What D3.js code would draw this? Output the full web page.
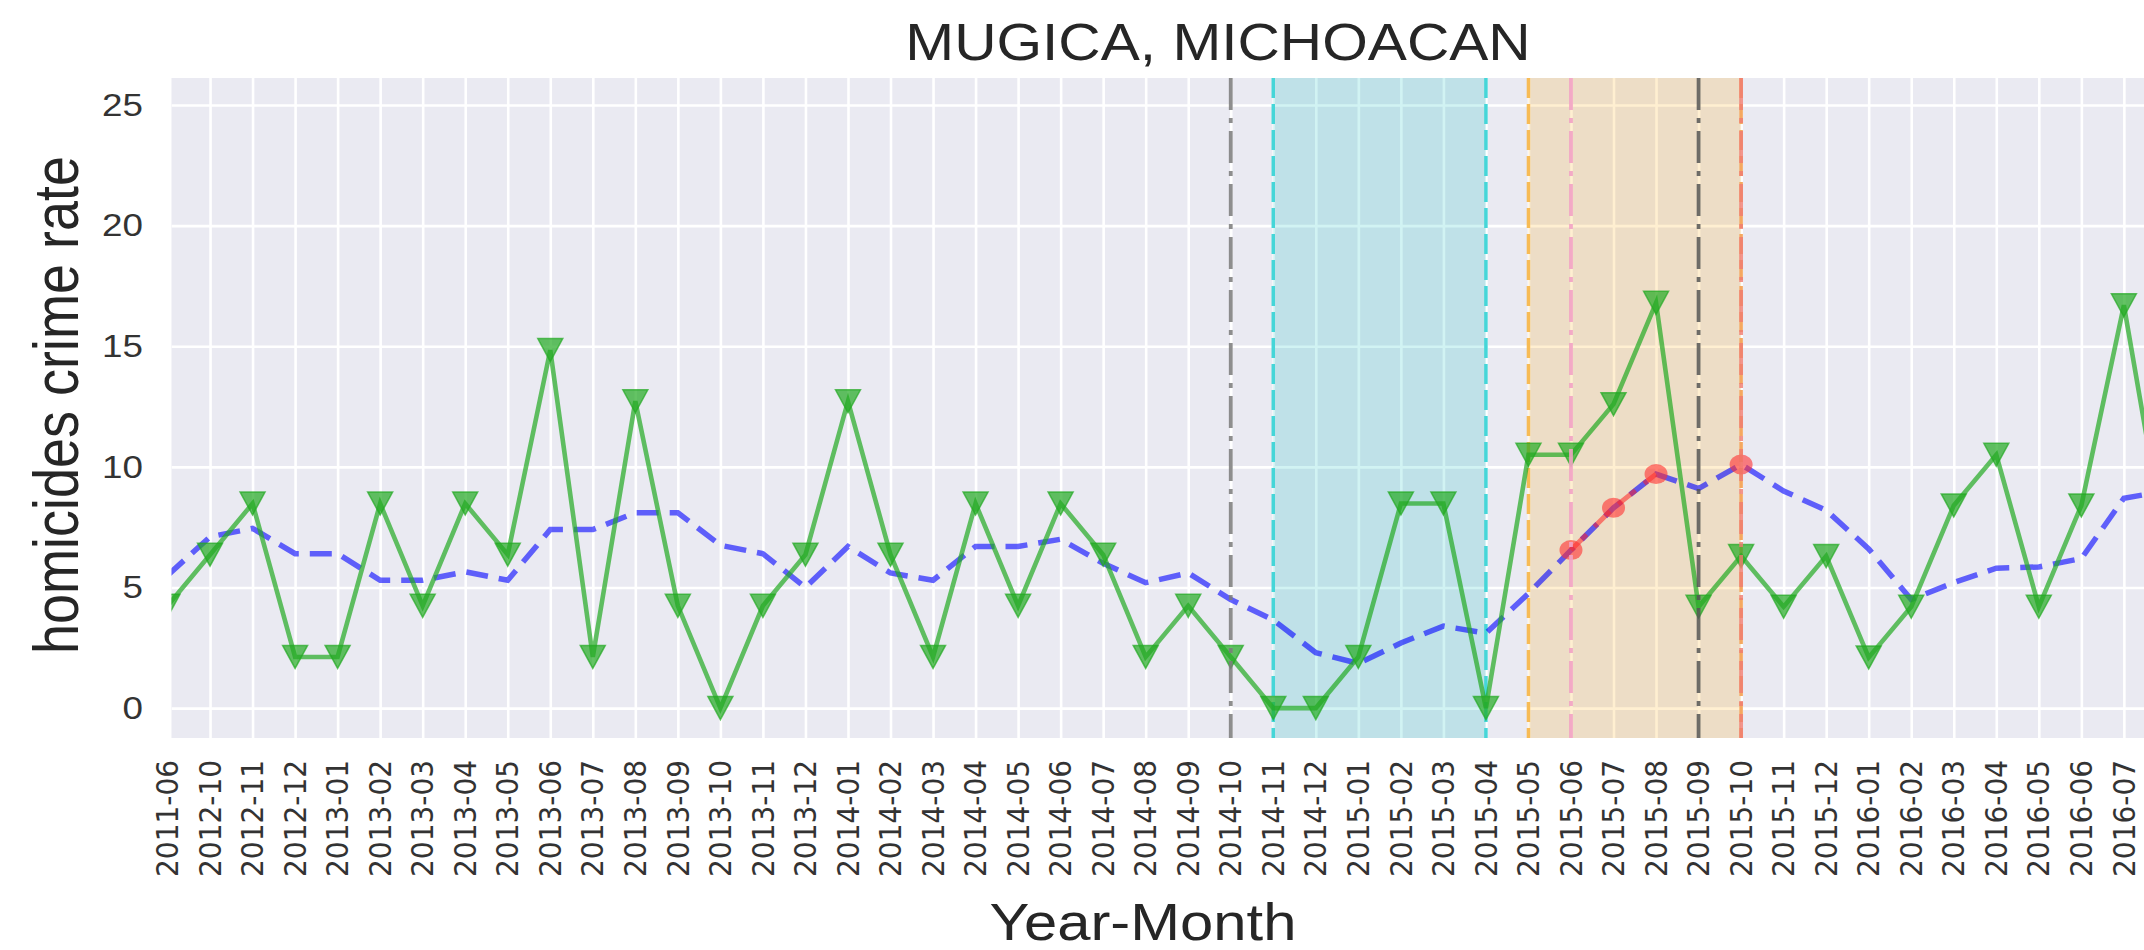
<!DOCTYPE html>
<html>
<head>
<meta charset="utf-8">
<script src="https://cdn.jsdelivr.net/npm/d3@7"></script>
<style>
body { margin: 0; background: #fff; }
svg { display: block; }
</style>
</head>
<body>
<svg id="chart" width="2144" height="950"></svg>
<script>
// categories on the x axis (last one sits just past the right edge)
var months = ["2011-06", "2012-10", "2012-11", "2012-12",
  "2013-01", "2013-02", "2013-03", "2013-04", "2013-05", "2013-06", "2013-07", "2013-08", "2013-09", "2013-10", "2013-11", "2013-12",
  "2014-01", "2014-02", "2014-03", "2014-04", "2014-05", "2014-06", "2014-07", "2014-08", "2014-09", "2014-10", "2014-11", "2014-12",
  "2015-01", "2015-02", "2015-03", "2015-04", "2015-05", "2015-06", "2015-07", "2015-08", "2015-09", "2015-10", "2015-11", "2015-12",
  "2016-01", "2016-02", "2016-03", "2016-04", "2016-05", "2016-06", "2016-07", "2016-08"];

// monthly homicides crime rate (green)
var homicideRate = [4.24, 6.36, 8.48, 2.12, 2.12, 8.48, 4.24, 8.48, 6.36, 14.84, 2.12, 12.72,
  4.24, 0, 4.24, 6.36, 12.72, 6.36, 2.12, 8.48, 4.24, 8.48, 6.36, 2.12,
  4.24, 2.12, 0, 0, 2.12, 8.48, 8.48, 0, 10.5, 10.5, 12.6, 16.8,
  4.2, 6.3, 4.2, 6.3, 2.1, 4.2, 8.4, 10.5, 4.2, 8.4, 16.7, 6.5];

// rolling mean (blue dashed)
var rollingMean = [5.5, 7.1, 7.45, 6.4, 6.4, 5.3, 5.3, 5.65, 5.3, 7.4, 7.4, 8.1,
  8.1, 6.75, 6.4, 5.0, 6.7, 5.6, 5.3, 6.7, 6.7, 7.0, 6.0, 5.2,
  5.6, 4.5, 3.65, 2.3, 1.85, 2.7, 3.4, 3.1, 4.75, 6.55, 8.3, 9.7,
  9.1, 10.1, 9.0, 8.2, 6.6, 4.5, 5.2, 5.8, 5.85, 6.2, 8.7, 9.0];

var yTicks = [0, 5, 10, 15, 20, 25];

// highlighted months
var redSegment = ["2015-06", "2015-07", "2015-08"];
var redPoint = ["2015-10"];
var cyanSpan = ["2014-11", "2015-04"];
var orangeSpan = ["2015-05", "2015-10"];
var eventLines = ["2014-10", "2015-06", "2015-09", "2015-10"];

const width = 2144, height = 950;
const plotLeft = 171.5, plotTop = 78, plotBottom = 738;
const step = 42.53;
const stretch = 1.15;   // the picture is a little wider than tall

var svg = d3.select("#chart");

var x = d3.scalePoint()
  .domain(months)
  .range([167.5, 167.5 + step * (months.length - 1)]);

var y = d3.scaleLinear()
  .domain([-1.24, 26.12])
  .range([plotBottom, plotTop]);

var series = months.map(function(m, i) {
  return { month: m, rate: homicideRate[i], mean: rollingMean[i] };
});
var byMonth = {};
series.forEach(function(d) { byMonth[d.month] = d; });

svg.append("defs").append("clipPath").attr("id", "plotClip")
  .append("rect")
  .attr("x", plotLeft).attr("y", plotTop)
  .attr("width", width - plotLeft).attr("height", plotBottom - plotTop);

// background
svg.append("rect")
  .attr("x", plotLeft).attr("y", plotTop)
  .attr("width", width - plotLeft).attr("height", plotBottom - plotTop)
  .attr("fill", "#eaeaf2");

var plot = svg.append("g").attr("clip-path", "url(#plotClip)");

// grid
var xGrid = plot.append("g")
  .attr("transform", "translate(0," + plotBottom + ")")
  .call(d3.axisBottom(x).tickSize(-(plotBottom - plotTop)).tickFormat(""));
var yGrid = plot.append("g")
  .attr("transform", "translate(" + plotLeft + ",0)")
  .call(d3.axisLeft(y).tickValues(yTicks).tickSize(-(width - plotLeft)).tickFormat(""));
[xGrid, yGrid].forEach(function(g) {
  g.select(".domain").remove();
  g.selectAll("line").attr("stroke", "#ffffff").attr("stroke-width", 2.6);
});

// shaded periods
function span(range, fill, opacity, edgeLeft, edgeRight) {
  plot.append("rect")
    .attr("x", x(range[0]))
    .attr("y", plotTop)
    .attr("width", x(range[1]) - x(range[0]))
    .attr("height", plotBottom - plotTop)
    .attr("fill", fill)
    .attr("fill-opacity", opacity);
  plot.selectAll(null)
    .data([[range[0], edgeLeft], [range[1], edgeRight]])
    .enter()
    .append("line")
    .attr("x1", d => x(d[0])).attr("x2", d => x(d[0]))
    .attr("y1", plotTop).attr("y2", plotBottom)
    .attr("stroke", d => d[1])
    .attr("stroke-width", 3.5)
    .attr("stroke-dasharray", "20,6");
}
span(cyanSpan, "#00bfbf", 0.18, "#45d6d8", "#45d6d8");
span(orangeSpan, "#ffa500", 0.18, "#f7bb55", "#f5a860");

// rolling mean
var line = d3.line()
  .x(d => x(d.month));

plot.append("path")
  .datum(series)
  .attr("d", line.y(d => y(d.mean)))
  .attr("fill", "none")
  .attr("stroke", "#0000ff")
  .attr("stroke-opacity", 0.6)
  .attr("stroke-width", 5.5)
  .attr("stroke-dasharray", "22,11");

// homicides rate
plot.append("path")
  .datum(series)
  .attr("d", line.y(d => y(d.rate)))
  .attr("fill", "none")
  .attr("stroke", "#22aa22")
  .attr("stroke-opacity", 0.7)
  .attr("stroke-width", 4.6);

plot.selectAll("path.marker")
  .data(series)
  .enter()
  .append("path")
  .attr("class", "marker")
  .attr("transform", d => "translate(" + x(d.month) + "," + y(d.rate) + ")")
  .attr("d", "M-12.5,-11.5L12.5,-11.5L0,11.5Z")
  .attr("fill", "#22aa22")
  .attr("fill-opacity", 0.7)
  .attr("stroke", "#22aa22")
  .attr("stroke-opacity", 0.7)
  .attr("stroke-width", 1.5);

// red highlight on the rolling mean
var redData = redSegment.map(m => byMonth[m]);
plot.append("path")
  .datum(redData)
  .attr("d", line.y(d => y(d.mean)))
  .attr("fill", "none")
  .attr("stroke", "#ff2020")
  .attr("stroke-opacity", 0.55)
  .attr("stroke-width", 5)
  .attr("stroke-dasharray", "22,11");

plot.selectAll("ellipse.red")
  .data(redData.concat(redPoint.map(m => byMonth[m])))
  .enter()
  .append("ellipse")
  .attr("class", "red")
  .attr("cx", d => x(d.month))
  .attr("cy", d => y(d.mean))
  .attr("rx", 11.5)
  .attr("ry", 10)
  .attr("fill", "#ff3030")
  .attr("fill-opacity", 0.6);

// event lines (dash-dot)
var eventColors = ["#7a7a7a", "#f2a2c4", "#555555", "#f07a70"];
var eventOpacity = [0.85, 0.9, 0.85, 0.8];
plot.selectAll("line.event")
  .data(eventLines)
  .enter()
  .append("line")
  .attr("class", "event")
  .attr("x1", d => x(d)).attr("x2", d => x(d))
  .attr("y1", plotTop).attr("y2", plotBottom)
  .attr("stroke", (d, i) => eventColors[i])
  .attr("stroke-opacity", (d, i) => eventOpacity[i])
  .attr("stroke-width", 3.8)
  .attr("stroke-dasharray", "32,8,5,8");

// axes labels
var yAxis = svg.append("g")
  .attr("transform", "translate(" + plotLeft + ",0)")
  .call(d3.axisLeft(y).tickValues(yTicks).tickSize(0).tickPadding(24.8));
yAxis.select(".domain").remove();
yAxis.selectAll("text")
  .attr("transform", "scale(" + stretch + ",1)")
  .attr("font-family", "Liberation Sans, Arial, sans-serif")
  .attr("font-size", 32)
  .attr("fill", "#333333");

// the last month falls outside the picture, so its label is left out
var xAxis = svg.append("g")
  .attr("transform", "translate(0," + plotBottom + ")")
  .call(d3.axisBottom(x).tickValues(months.slice(0, -1)).tickSize(0));
xAxis.select(".domain").remove();
xAxis.selectAll("text")
  .attr("x", 0).attr("y", 0).attr("dy", "0.33em")
  .attr("text-anchor", "end")
  .attr("transform", "translate(0,22) scale(1.1,1) rotate(-90)")
  .attr("font-family", "DejaVu Sans, sans-serif")
  .attr("font-size", 28)
  .attr("fill", "#333333");

svg.append("text")
  .attr("transform", "translate(1218,60) scale(" + stretch + ",1)")
  .attr("text-anchor", "middle")
  .attr("font-family", "Liberation Sans, Arial, sans-serif")
  .attr("font-size", 51)
  .attr("fill", "#262626")
  .text("MUGICA, MICHOACAN");

svg.append("text")
  .attr("transform", "translate(1143,940) scale(" + stretch + ",1)")
  .attr("text-anchor", "middle")
  .attr("font-family", "Liberation Sans, Arial, sans-serif")
  .attr("font-size", 52)
  .attr("fill", "#262626")
  .text("Year-Month");

svg.append("text")
  .attr("transform", "translate(78,405) scale(" + stretch + ",1) rotate(-90)")
  .attr("text-anchor", "middle")
  .attr("font-family", "Liberation Sans, Arial, sans-serif")
  .attr("font-size", 54)
  .attr("fill", "#262626")
  .text("homicides crime rate");
</script>
</body>
</html>
